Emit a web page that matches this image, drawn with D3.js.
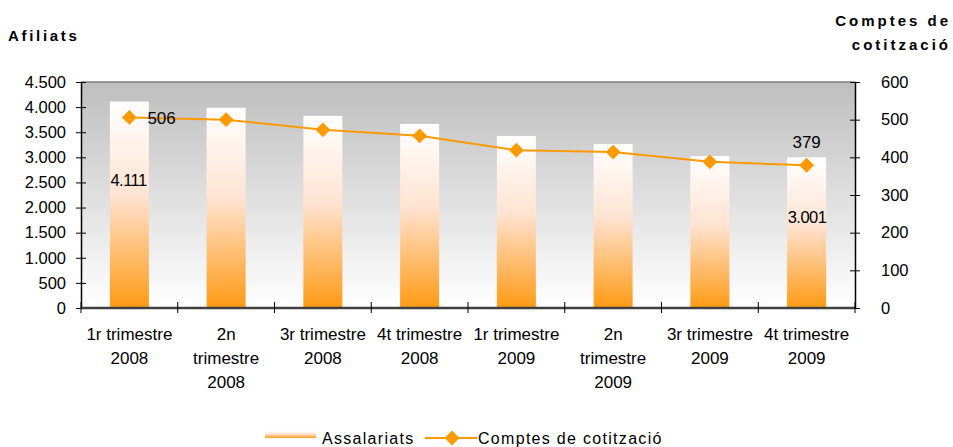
<!DOCTYPE html>
<html>
<head>
<meta charset="utf-8">
<script src="https://cdn.jsdelivr.net/npm/d3@7"></script>
<style>
  body { margin: 0; background: #fff; }
  text { font-family: "Liberation Sans", Arial, sans-serif; fill: #000; }
</style>
</head>
<body>
<div id="chart"></div>
<script>
const categories = [
    ['1r trimestre', '2008'],
    ['2n', 'trimestre', '2008'],
    ['3r trimestre', '2008'],
    ['4t trimestre', '2008'],
    ['1r trimestre', '2009'],
    ['2n', 'trimestre', '2009'],
    ['3r trimestre', '2009'],
    ['4t trimestre', '2009']
];
const assalariats = [4111, 3985, 3825, 3665, 3425, 3265, 3025, 3001];
const comptes = [506, 500, 473, 457, 419, 414, 388, 379];
const leftTicks = [0, 500, 1000, 1500, 2000, 2500, 3000, 3500, 4000, 4500];
const rightTicks = [0, 100, 200, 300, 400, 500, 600];

const width = 953;
const height = 447;
const margin = { top: 82, right: 98, bottom: 139, left: 81 };
const innerW = width - margin.left - margin.right;
const innerH = height - margin.top - margin.bottom;

const fmt = d3.formatLocale({ decimal: ',', thousands: '.', grouping: [3], currency: ['', ''] }).format(',d');

const svg = d3.select('#chart').append('svg')
    .attr('width', width)
    .attr('height', height);

const defs = svg.append('defs');

const bg = defs.append('linearGradient').attr('id', 'bg').attr('x1', 0).attr('y1', 0).attr('x2', 0).attr('y2', 1);
bg.append('stop').attr('offset', '0%').attr('stop-color', '#bebebe');
bg.append('stop').attr('offset', '100%').attr('stop-color', '#ffffff');

const barGrad = defs.append('linearGradient').attr('id', 'bar').attr('x1', 0).attr('y1', 0).attr('x2', 0).attr('y2', 1);
barGrad.append('stop').attr('offset', '0%').attr('stop-color', '#ffffff');
barGrad.append('stop').attr('offset', '45%').attr('stop-color', '#ffe3d2');
barGrad.append('stop').attr('offset', '100%').attr('stop-color', '#ff9a14');

const band = d3.scaleBand().domain(d3.range(categories.length)).range([0, innerW]);

const yL = d3.scaleLinear().domain([0, 4500]).range([innerH, 0]);
const yR = d3.scaleLinear().domain([0, 600]).range([innerH, 0]);

const g = svg.append('g').attr('transform', `translate(${margin.left},${margin.top})`);

g.append('rect')
    .attr('width', innerW)
    .attr('height', innerH)
    .attr('fill', 'url(#bg)');

g.append('line')
    .attr('x1', 0).attr('x2', innerW)
    .attr('y1', 0).attr('y2', 0)
    .attr('stroke', '#808080')
    .attr('stroke-width', 1.5);

const cx = i => band(i) + band.bandwidth() / 2;

g.append('g').selectAll('rect')
    .data(assalariats)
    .join('rect')
    .attr('x', (d, i) => cx(i) - 19.5)
    .attr('width', 39)
    .attr('y', d => yL(d))
    .attr('height', d => innerH - yL(d))
    .attr('fill', 'url(#bar)');

const line = d3.line()
    .x((d, i) => cx(i))
    .y(d => yR(d));

g.append('path')
    .datum(comptes)
    .attr('d', line)
    .attr('fill', 'none')
    .attr('stroke', '#ff9900')
    .attr('stroke-width', 2);

const diamond = d3.symbol().type(d3.symbolDiamond2).size(140);

g.append('g').selectAll('path')
    .data(comptes)
    .join('path')
    .attr('d', diamond)
    .attr('transform', (d, i) => `translate(${cx(i)},${yR(d)})`)
    .attr('fill', '#ff9900');

// axes
const leftAxis = g.append('g')
    .call(d3.axisLeft(yL).tickValues(leftTicks).tickFormat(fmt).tickSizeInner(0).tickSizeOuter(0).tickPadding(15));
leftAxis.selectAll('.tick').append('line').attr('x1', -5).attr('x2', 5).attr('stroke', '#000');

const rightAxis = g.append('g')
    .attr('transform', `translate(${innerW},0)`)
    .call(d3.axisRight(yR).tickValues(rightTicks).tickSizeInner(0).tickSizeOuter(0).tickPadding(26));
rightAxis.selectAll('.tick').append('line').attr('x1', -5).attr('x2', 5).attr('stroke', '#000');

[leftAxis, rightAxis].forEach(a => {
    a.select('.domain').attr('stroke', '#000').attr('stroke-width', 1.5);
    a.selectAll('.tick text').attr('font-size', 16.5).attr('font-family', '"Liberation Sans", Arial, sans-serif').attr('fill', '#000');
});

const bottom = g.append('g').attr('transform', `translate(0,${innerH})`);
bottom.append('line')
    .attr('x1', 0).attr('x2', innerW)
    .attr('stroke', '#404040')
    .attr('stroke-width', 2.5);
bottom.selectAll('.xt')
    .data(d3.range(categories.length + 1))
    .join('line')
    .attr('x1', i => i * band.bandwidth())
    .attr('x2', i => i * band.bandwidth())
    .attr('y1', -6).attr('y2', 5)
    .attr('stroke', '#000');

const xl = bottom.selectAll('.xl')
    .data(categories)
    .join('text')
    .attr('text-anchor', 'middle')
    .attr('font-size', 17)
    .attr('transform', (d, i) => `translate(${cx(i)},32)`);
xl.selectAll('tspan')
    .data(d => d)
    .join('tspan')
    .attr('x', 0)
    .attr('dy', (d, i) => i === 0 ? 0 : 24)
    .text(d => d);

// data labels
g.append('text').attr('x', cx(0) - 19).attr('y', yL(2500) + 4).attr('font-size', 16.5).attr('letter-spacing', -0.5).text(fmt(assalariats[0]));
g.append('text').attr('x', cx(7) - 19).attr('y', yL(1600) - 5).attr('font-size', 16.5).attr('letter-spacing', -0.5).text(fmt(assalariats[7]));
g.append('text').attr('x', cx(0) + 18).attr('y', yR(comptes[0]) + 7).attr('font-size', 17).text(comptes[0]);
g.append('text').attr('x', cx(7)).attr('y', yR(comptes[7]) - 17).attr('text-anchor', 'middle').attr('font-size', 17).text(comptes[7]);

// titles
svg.append('text').attr('x', 8).attr('y', 41)
    .attr('font-size', 15).attr('font-weight', 'bold').attr('letter-spacing', 2.7)
    .text('Afiliats');
const rt = svg.append('text').attr('text-anchor', 'end').attr('font-size', 15).attr('font-weight', 'bold').attr('letter-spacing', 3);
rt.append('tspan').attr('x', 951).attr('y', 26).text('Comptes de');
rt.append('tspan').attr('x', 951).attr('y', 50).text('cotització');

// legend
const lg = svg.append('g').attr('transform', 'translate(265,438)');
lg.append('rect').attr('x', 0).attr('y', -7).attr('width', 51).attr('height', 7).attr('fill', 'url(#bar)');
lg.append('text').attr('x', 57).attr('y', 6).attr('font-size', 16).attr('letter-spacing', 1.3).text('Assalariats');
lg.append('line').attr('x1', 160).attr('x2', 212).attr('y1', 0).attr('y2', 0).attr('stroke', '#ff9900').attr('stroke-width', 2);
lg.append('path').attr('d', diamond).attr('transform', 'translate(187,0)').attr('fill', '#ff9900');
lg.append('text').attr('x', 213).attr('y', 6).attr('font-size', 16).attr('letter-spacing', 1.3).text('Comptes de cotització');
</script>
</body>
</html>
